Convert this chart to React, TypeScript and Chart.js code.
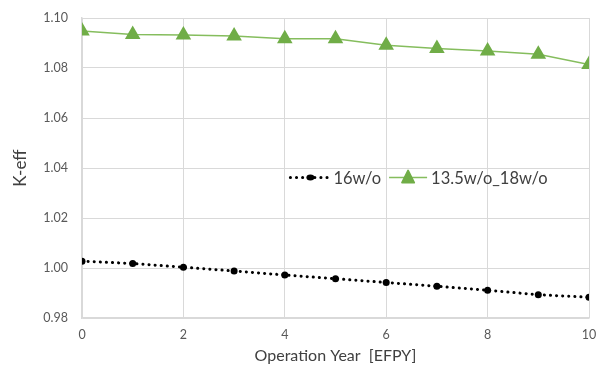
import React, { useEffect, useRef } from "react";
import { Chart, registerables } from "chart.js";

Chart.register(...registerables);

const years = [0, 1, 2, 3, 4, 5, 6, 7, 8, 9, 10];
const keff16 = [1.0027, 1.0018, 1.0003, 0.9988, 0.9972, 0.9957, 0.9942, 0.9927, 0.9911, 0.9893, 0.9883];
const keff135 = [1.0948, 1.0934, 1.0932, 1.0928, 1.0917, 1.0917, 1.0891, 1.0878, 1.0868, 1.0855, 1.0814];
const seriesNames = ["16w/o", "13.5w/o_18w/o"];
const xTitle = "Operation Year  [EFPY]";
const yTitle = "K-eff";

const FONT = "Lato, 'Open Sans', sans-serif";

const legendPlugin = {
  id: "insideLegend",
  afterDraw(chart: any) {
    const { ctx, chartArea } = chart;
    const w = chartArea.right - chartArea.left;
    const h = chartArea.bottom - chartArea.top;
    const y = chartArea.top + h * 0.532;
    ctx.save();
    ctx.font = `16.5px ${FONT}`;
    ctx.fillStyle = "#404040";
    ctx.textBaseline = "middle";
    const x0 = chartArea.left + w * 0.411;
    ctx.strokeStyle = "#000";
    ctx.lineWidth = 3;
    ctx.lineCap = "round";
    ctx.setLineDash([0.1, 6]);
    ctx.beginPath();
    ctx.moveTo(x0, y);
    ctx.lineTo(x0 + 38, y);
    ctx.stroke();
    ctx.setLineDash([]);
    ctx.fillStyle = "#000";
    ctx.beginPath();
    ctx.ellipse(x0 + 20, y, 4, 3, 0, 0, Math.PI * 2);
    ctx.fill();
    ctx.fillStyle = "#404040";
    ctx.fillText(seriesNames[0], x0 + 43, y + 1);
    const t1 = ctx.measureText(seriesNames[0]).width;
    const x1 = x0 + 43 + t1 + 8;
    ctx.strokeStyle = "#85bd5d";
    ctx.lineWidth = 1.5;
    ctx.lineCap = "butt";
    ctx.beginPath();
    ctx.moveTo(x1, y);
    ctx.lineTo(x1 + 38, y);
    ctx.stroke();
    const cx = x1 + 19;
    ctx.fillStyle = "#70ad47";
    ctx.strokeStyle = "#70ad47";
    ctx.lineWidth = 2;
    ctx.lineJoin = "round";
    ctx.beginPath();
    ctx.moveTo(cx, y - 7);
    ctx.lineTo(cx + 6, y + 5);
    ctx.lineTo(cx - 6, y + 5);
    ctx.closePath();
    ctx.fill();
    ctx.stroke();
    ctx.fillStyle = "#404040";
    ctx.fillText(seriesNames[1], x1 + 42, y + 1);
    ctx.restore();
  },
};

export default function App() {
  const ref = useRef<HTMLCanvasElement | null>(null);
  useEffect(() => {
    if (!ref.current) return;
    const chart = new Chart(ref.current, {
      type: "line",
      data: {
        datasets: [
          {
            label: seriesNames[0],
            data: years.map((x, i) => ({ x, y: keff16[i] })),
            borderColor: "#000",
            borderWidth: 3,
            borderDash: [0.1, 6],
            borderCapStyle: "round",
            pointStyle: "circle",
            pointRadius: 3.5,
            pointBackgroundColor: "#000",
            pointBorderColor: "#000",
            pointBorderWidth: 0,
            tension: 0,
          },
          {
            label: seriesNames[1],
            data: years.map((x, i) => ({ x, y: keff135[i] })),
            borderColor: "#85bd5d",
            borderWidth: 1.5,
            pointStyle: "triangle",
            pointRadius: 7,
            pointBackgroundColor: "#70ad47",
            pointBorderColor: "#70ad47",
            pointBorderWidth: 2,
            tension: 0,
          },
        ],
      } as any,
      options: {
        animation: false,
        responsive: false,
        maintainAspectRatio: false,
        layout: { padding: { top: 18, right: 9, left: 0, bottom: 0 } },
        plugins: { legend: { display: false }, tooltip: { enabled: false } },
        scales: {
          x: {
            type: "linear",
            min: 0,
            max: 10,
            ticks: { stepSize: 2, color: "#595959", font: { family: FONT, size: 12.5 }, padding: 9, maxRotation: 0 },
            grid: { color: "#d9d9d9", lineWidth: 1, drawTicks: false },
            border: { color: "#d9d9d9", width: 1.5 },
            title: { display: true, text: xTitle, color: "#404040", font: { family: FONT, size: 16 }, padding: { top: 6, bottom: 6 } },
            afterFit: (s: any) => { s.height = 53; s.paddingLeft = 0; s.paddingRight = 0; },
          },
          y: {
            min: 0.98,
            max: 1.1,
            ticks: { stepSize: 0.02, color: "#595959", font: { family: FONT, size: 12.5 }, padding: 14, callback: (v: any) => Number(v).toFixed(2) },
            grid: { color: "#d9d9d9", lineWidth: 1, drawTicks: false },
            border: { color: "#d9d9d9", width: 1.5 },
            title: { display: true, text: yTitle, color: "#404040", font: { family: FONT, size: 17 }, padding: { top: 10, bottom: 4 } },
            afterFit: (s: any) => { s.width = 82; s.paddingTop = 0; s.paddingBottom = 0; },
          },
        },
      },
      plugins: [legendPlugin],
    } as any);
    return () => chart.destroy();
  }, []);
  return (
    <div style={{ position: "fixed", left: 0, top: 0, width: 598, height: 371, background: "#fff" }}>
      <canvas ref={ref} width={598} height={371} style={{ width: 598, height: 371 }} />
    </div>
  );
}
